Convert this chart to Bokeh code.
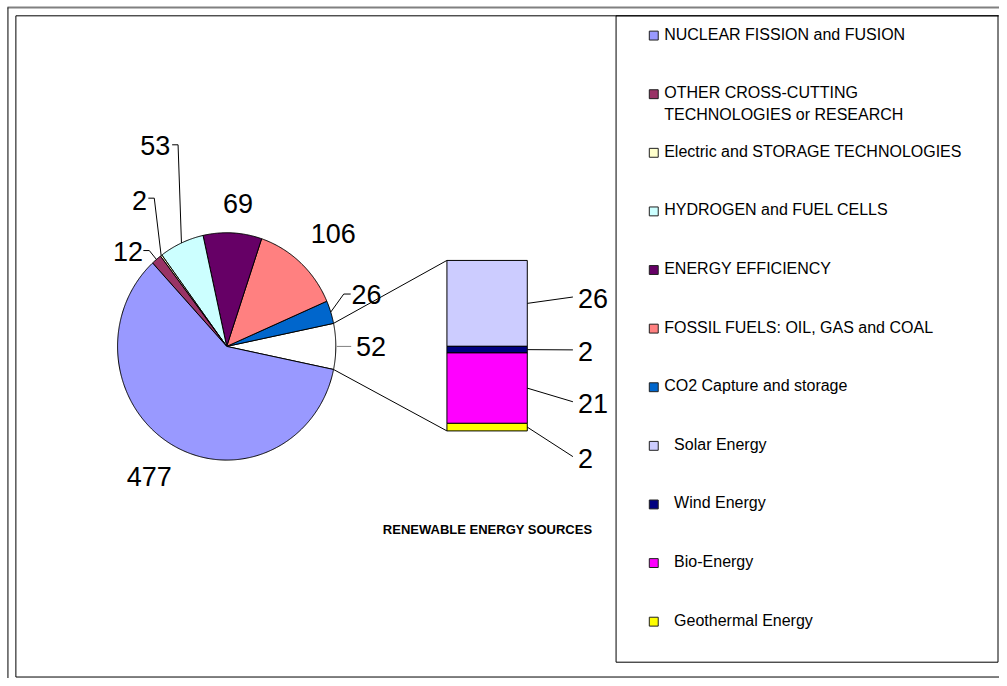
import numpy as np
from bokeh.plotting import figure
from bokeh.models import Range1d
from bokeh.core.properties import value
from bokeh.embed import file_html
from bokeh.resources import INLINE

# ---------------- data ----------------
main_labels = ["NUCLEAR FISSION and FUSION",
               "OTHER CROSS-CUTTING\nTECHNOLOGIES or RESEARCH",
               "Electric and STORAGE TECHNOLOGIES",
               "HYDROGEN and FUEL CELLS",
               "ENERGY EFFICIENCY",
               "FOSSIL FUELS: OIL, GAS and COAL",
               "CO2 Capture and storage"]
main_values = [477, 12, 2, 53, 69, 106, 26]
main_colors = ["#9999FF", "#993366", "#FFFFCC", "#CCFFFF", "#660066", "#FF8080", "#0066CC"]

renew_labels = ["Solar Energy", "Wind Energy", "Bio-Energy", "Geothermal Energy"]
renew_values = [26.1, 2.0, 21.4, 2.3]
renew_colors = ["#CCCCFF", "#000080", "#FF00FF", "#FFFF00"]
renew_title = "RENEWABLE ENERGY SOURCES"

# ---------------- layout (reference pixel coords, y downwards) ----------------
W, H = 999, 678
REF_W, REF_H = 1007, 686
CX, CY, RX, RY = 228, 350, 110, 115
BAR_L, BAR_R, BAR_TOP, BAR_H = 450, 531, 263, 172.5
FONT = "Liberation Sans"
LBL_SIZE = "27px"

pie_label_xy = [(150, 482), (128.5, 253.5), (140, 202), (156, 146.5),
                (239.5, 205), (335.5, 236), (369, 297)]
renew_label_xy = (373.5, 350)
pie_leaders = {1: [(144, 253), (150, 253)], 2: [(149, 200), (155, 200)],
               3: [(173, 146), (179, 146)], 6: [(353, 297), (346, 297)]}
bar_label_x = 582
bar_label_y = [301.5, 355, 407.5, 463]

legend_y0, legend_step = 34, 59.3

p = figure(width=W, height=H, x_range=Range1d(0, REF_W), y_range=Range1d(REF_H, 0),
           output_backend="svg", toolbar_location=None,
           x_axis_type=None, y_axis_type=None, min_border=0)
p.grid.visible = False
p.outline_line_color = None
p.background_fill_color = "white"
p.border_fill_color = "white"

# ---------------- frames ----------------
p.line([7, REF_W], [7, 7], line_color="#808080", line_width=2)
p.line([7.5, 7.5], [7, REF_H], line_color="black", line_width=1)
p.line([REF_W, 15.5, 15.5, REF_W], [15.5, 15.5, 684.5, 684.5], line_color="black", line_width=1)
p.line([620.5, 1005.5, 1005.5, 620.5, 620.5], [15.5, 15.5, 669.5, 669.5, 15.5],
       line_color="black", line_width=1)

# ---------------- pie ----------------
renew_total = sum(renew_values)
total = sum(main_values) + renew_total

def edge(deg):
    a = np.radians(deg)
    return CX + RX * np.cos(a), CY - RY * np.sin(a)

def slice_pts(a0, a1):
    n = max(3, int(abs(a1 - a0) * 2))
    t = np.radians(np.linspace(a0, a1, n))
    xs = [CX] + list(CX + RX * np.cos(t))
    ys = [CY] + list(CY - RY * np.sin(t))
    return xs, ys

half = renew_total / total * 360 / 2
xs_all, ys_all, cols = [], [], []
xs, ys = slice_pts(-half, half)
xs_all.append(xs); ys_all.append(ys); cols.append("white")
mids = [None] * len(main_values)
a = half
for i in reversed(range(len(main_values))):
    span = main_values[i] / total * 360
    xs, ys = slice_pts(a, a + span)
    xs_all.append(xs); ys_all.append(ys); cols.append(main_colors[i])
    mids[i] = a + span / 2
    a += span
p.patches(xs_all, ys_all, fill_color=cols, line_color="black", line_width=1)

# pie labels
for i, v in enumerate(main_values):
    x, y = pie_label_xy[i]
    p.text([x], [y], text=[str(v)], text_align="center", text_baseline="middle",
           text_font=value(FONT), text_font_size=LBL_SIZE, text_color="black")
    if i in pie_leaders:
        ex, ey = edge(mids[i])
        pts = pie_leaders[i] + [(ex, ey)]
        p.line([q[0] for q in pts], [q[1] for q in pts], line_color="black", line_width=1)
p.text([renew_label_xy[0]], [renew_label_xy[1]], text=[str(int(round(renew_total)))],
       text_align="center", text_baseline="middle",
       text_font=value(FONT), text_font_size=LBL_SIZE, text_color="black")
ex, ey = edge(0)
p.line([ex + 1, renew_label_xy[0] - 20], [ey, ey], line_color="#808080", line_width=1)

# ---------------- bar ----------------
scale = BAR_H / renew_total
tops, bots = [], []
y = BAR_TOP
for v in renew_values:
    tops.append(y)
    y += v * scale
    bots.append(y)
p.quad(left=BAR_L, right=BAR_R, top=tops, bottom=bots, fill_color=renew_colors,
       line_color="black", line_width=1)

# connectors pie -> bar
x0, y0 = edge(half)
x1, y1 = edge(-half)
p.line([x0, BAR_L], [y0, tops[0]], line_color="black", line_width=1)
p.line([x1, BAR_L], [y1, bots[-1]], line_color="black", line_width=1)

for i, v in enumerate(renew_values):
    mid = (tops[i] + bots[i]) / 2
    ly = bar_label_y[i]
    p.line([BAR_R, bar_label_x - 5], [mid, ly - 1.5], line_color="black", line_width=1)
    p.text([bar_label_x], [ly], text=[str(int(round(v)))], text_align="left",
           text_baseline="middle", text_font=value(FONT), text_font_size=LBL_SIZE,
           text_color="black")

p.text([491], [535], text=[renew_title], text_align="center", text_baseline="middle",
       text_font=value(FONT), text_font_size="13px", text_font_style="bold",
       text_color="black")

# ---------------- legend ----------------
leg_labels = main_labels + renew_labels
leg_colors = main_colors + renew_colors
for k, (lab, col) in enumerate(zip(leg_labels, leg_colors)):
    ry = legend_y0 + k * legend_step
    tx = 669 if k < len(main_labels) else 679
    nlines = lab.count("\n") + 1
    ty = ry + (nlines - 1) * 10.5
    p.rect([658.5], [ry + 1.5], width=9, height=9, fill_color=col,
           line_color="#202020", line_width=1)
    p.text([tx], [ty], text=[lab], text_align="left", text_baseline="middle",
           text_font=value(FONT), text_font_size="16px", text_color="black",
           text_line_height=1.3)

open("out.html", "w").write(file_html(p, INLINE))
